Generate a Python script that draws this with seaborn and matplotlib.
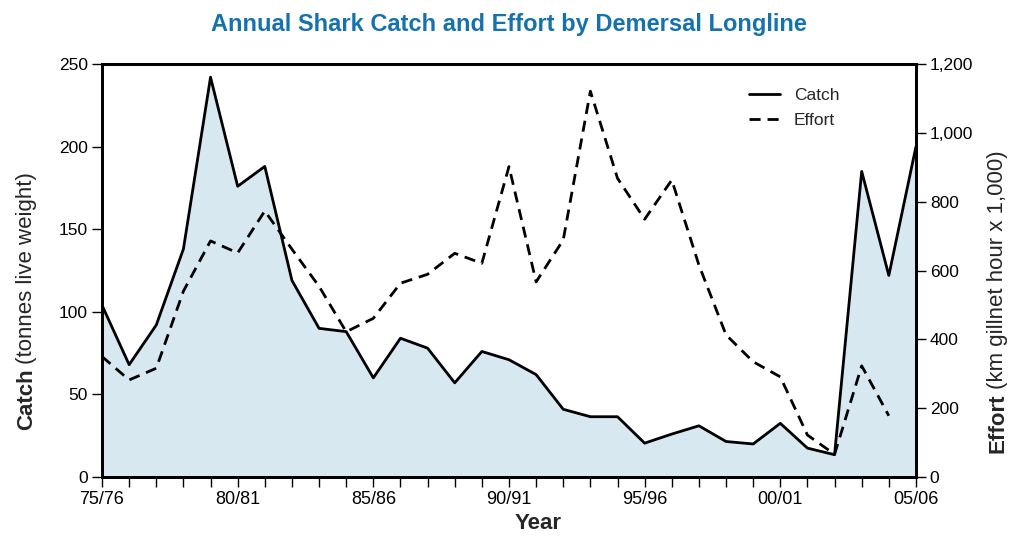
import matplotlib
matplotlib.use("Agg")
import matplotlib.pyplot as plt
from matplotlib.lines import Line2D
import seaborn as sns
import pandas as pd

# season labels, 75/76 .. 05/06
seasons = [f"{y % 100:02d}/{(y + 1) % 100:02d}" for y in range(1975, 2006)]
tick_labels = ["75/76", "80/81", "85/86", "90/91", "95/96", "00/01", "05/06"]

# catch (tonnes live weight), one value per season
catch = [104, 68, 92, 138, 242, 176, 188, 119, 90, 88, 60, 84, 78, 57, 76, 71, 62,
         41, 36.5, 36.5, 20.5, 26, 31, 21.5, 20, 32.5, 17.5, 13.5, 185, 122, 200]

# effort (km gillnet hour x 1,000), last season not reported
effort = [350, 282, 316, 540, 686, 651, 773, 662, 554, 422, 461, 563, 589, 650, 621,
          902, 567, 689, 1121, 868, 749, 863, 616, 413, 335, 291, 122, 66, 323, 178]

df_catch = pd.DataFrame({"idx": range(len(catch)), "Catch": catch})
df_effort = pd.DataFrame({"idx": range(len(effort)), "Effort": effort})

sns.set_theme(style="ticks")
plt.rcParams["font.family"] = ["Liberation Sans", "DejaVu Sans"]

fig = plt.figure(figsize=(10.12, 5.37), dpi=100)
ax = fig.add_axes([0.1008, 0.1117, 0.8043, 0.7691])
ax2 = ax.twinx()

# catch: filled area + solid line
ax.fill_between(df_catch["idx"], df_catch["Catch"], 0, color="#d8e8f1", lw=0)
sns.lineplot(data=df_catch, x="idx", y="Catch", ax=ax, color="black", lw=2)

# effort: dashed line on right axis
dash = (0, (4, 2.5))
sns.lineplot(data=df_effort, x="idx", y="Effort", ax=ax2, color="black", lw=2,
             linestyle=dash)

n = len(seasons)
ax.set_xlim(0, n - 1)
ax.set_ylim(0, 250)
ax2.set_ylim(0, 1200)
ax.set_xticks(range(n))
ax.set_xticklabels([s if s in tick_labels else "" for s in seasons], fontsize=13)
ax.set_yticks(range(0, 251, 50))
ax.set_yticklabels([str(v) for v in range(0, 251, 50)], fontsize=12.5)
ax2.set_yticks(range(0, 1201, 200))
ax2.set_yticklabels([f"{v:,}" for v in range(0, 1201, 200)], fontsize=12.5)

for a in (ax, ax2):
    for sp in a.spines.values():
        sp.set_linewidth(2)
        sp.set_color("black")
    a.tick_params(length=7, width=1, colors="black", pad=3)
ax.tick_params(axis="x", pad=3)
ax.set_ylabel("")
ax2.set_ylabel("")
ax.set_xlabel("")

# axis titles
fig.text(0.5315, 0.006, "Year", ha="center", va="bottom", fontsize=16,
         fontweight="bold")

fig.canvas.draw()
renderer = fig.canvas.get_renderer()


def split_label(x, y0, bold, rest):
    # bold word then regular text, stacked upward from y0 (figure fraction)
    t1 = fig.text(x, y0, bold, rotation=90, ha="center", va="bottom",
                  fontsize=16, fontweight="bold")
    h = t1.get_window_extent(renderer).height / fig.bbox.height
    fig.text(x, y0 + h + 0.008, rest, rotation=90, ha="center", va="bottom",
             fontsize=16)


split_label(0.026, 1 - 430 / 537, "Catch", "(tonnes live weight)")
split_label(0.986, 1 - 453 / 537, "Effort", "(km gillnet hour x 1,000)")

fig.text(0.503, 0.955, "Annual Shark Catch and Effort by Demersal Longline",
         ha="center", va="center", fontsize=17, fontweight="bold",
         color="#1672ad")

handles = [Line2D([], [], color="black", lw=2),
           Line2D([], [], color="black", lw=2, linestyle=dash)]
ax2.legend(handles, ["Catch", "Effort"], loc="upper right",
           bbox_to_anchor=(0.925, 0.98), frameon=False, fontsize=12.5,
           handlelength=1.8, labelspacing=0.55)

fig.savefig("out.png", dpi=100)
